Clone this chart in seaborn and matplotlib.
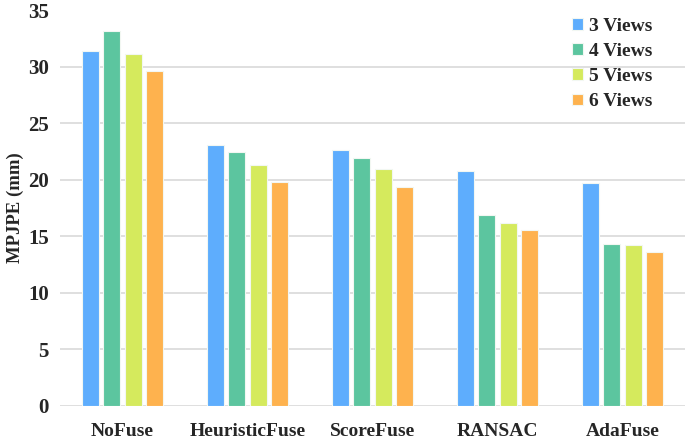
import matplotlib.pyplot as plt
import pandas as pd
import seaborn as sns

# data
methods = ["NoFuse", "HeuristicFuse", "ScoreFuse", "RANSAC", "AdaFuse"]
views = ["3 Views", "4 Views", "5 Views", "6 Views"]
views3 = [31.36, 23.05, 22.59, 20.82, 19.76]
views4 = [33.15, 22.50, 21.97, 16.90, 14.31]
views5 = [31.15, 21.35, 20.96, 16.14, 14.22]
views6 = [29.60, 19.79, 19.37, 15.52, 13.58]
colors = ["#5eadfd", "#5cc59f", "#d5ea5d", "#feb24e"]

df = pd.DataFrame({
    "method": methods * 4,
    "views": [v for v in views for _ in methods],
    "mpjpe": views3 + views4 + views5 + views6,
})

sns.set_style("white")
plt.rcParams["font.family"] = ["Liberation Serif", "DejaVu Serif"]
plt.rcParams["font.weight"] = "bold"

fig = plt.figure(figsize=(6.85, 4.41), dpi=100)
ax = fig.add_axes([0.0876, 0.0794, 0.9124, 0.8976])

sns.barplot(data=df, x="method", y="mpjpe", hue="views", order=methods,
            hue_order=views, palette=colors, width=0.69, gap=0.2,
            edgecolor="#f2f7f2", linewidth=0.8, saturation=1, ax=ax)

ax.set_ylim(0, 35)
ax.set_yticks(range(0, 36, 5))
ax.yaxis.grid(True, color="#d9d9d9", linewidth=1.2)
ax.get_ygridlines()[-1].set_visible(False)
ax.set_axisbelow(True)
for s in ax.spines.values():
    s.set_visible(False)
ax.tick_params(axis="both", length=0)
ax.tick_params(axis="x", pad=12, labelsize=14)
ax.tick_params(axis="y", pad=8, labelsize=15)
for lbl in ax.get_xticklabels() + ax.get_yticklabels():
    lbl.set_fontweight("bold")
ax.set_xlabel("")
ax.set_ylabel("")
fig.text(15 / 685, 0.53, "MPJPE (mm)", rotation=90, ha="center", va="center",
         fontsize=13.5, fontweight="bold")

leg = ax.legend(loc="upper right", bbox_to_anchor=(0.975, 1.025), frameon=False,
                fontsize=14, handlelength=0.55, handleheight=0.55,
                handletextpad=0.3, labelspacing=0.42)
for t in leg.get_texts():
    t.set_fontweight("bold")

fig.savefig("out.png", dpi=100)
